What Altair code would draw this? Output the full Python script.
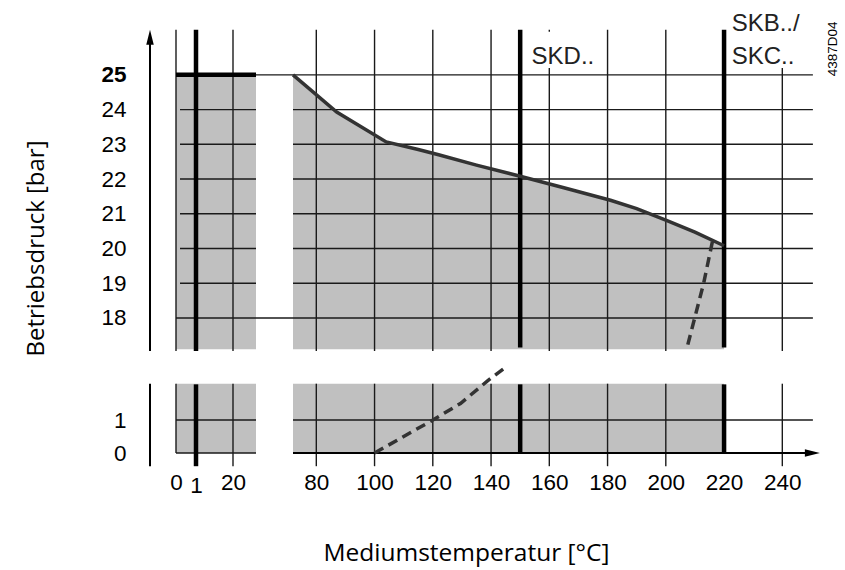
import altair as alt
import pandas as pd

# ---- scale structure (broken axes) ----
X_DOMAIN = [-9, 0, 1, 20, 28, 72, 255]
X_RANGE = [10, 36, 56, 93, 116, 153, 686]
Y_DOMAIN = [-0.5, 2.7, 17.0, 26.3]
Y_RANGE = [449.5, 343.9, 332.7, 9.7]

X_TICKS = [0, 1, 20, 80, 100, 120, 140, 160, 180, 200, 220, 240]
Y_TICKS = [0, 1, 18, 19, 20, 21, 22, 23, 24, 25]

# ---- data ----
CURVE_T = [72, 87, 104, 115, 122, 135, 150, 165, 181, 190, 200, 210, 220]
CURVE_P = [25.0, 23.93, 23.07, 22.85, 22.70, 22.40, 22.08, 21.75, 21.39, 21.15, 20.82, 20.47, 20.08]
FLOOR_P = 17.1

DASH_UP_T = [216, 213, 207.3]
DASH_UP_P = [20.2, 19.0, 17.15]
DASH_LO_T = [100, 120, 129.5, 139, 145]
DASH_LO_P = [0.0, 1.0, 1.5, 2.2, 2.6]

GRAY_X1 = [0, 0, 72]
GRAY_X2 = [28, 28, 220]
GRAY_Y1 = [17.1, 0, 0]
GRAY_Y2 = [25, 2.1, 2.1]

THIN_VX = [0, 20, 80, 100, 120, 140, 160, 180, 200, 240]
THICK_VX = [1, 150, 220]
HGRID_UPPER = [19, 20, 21, 22, 23, 24]

LABELS = ["SKD..", "SKB../", "SKC.."]
LABEL_T = [153.9, 222.6, 222.6]
LABEL_P = [25.3, 26.25, 25.3]
BOX_X1 = [151.8, 220.6]
BOX_X2 = [178.5, 250.2]
BOX_Y1 = [25.2, 25.2]
BOX_Y2 = [26.24, 26.9]

DOC_ID = "4387D04"

# ---- scales / axes ----
XS = alt.Scale(domain=X_DOMAIN, range=X_RANGE, zero=False, nice=False)
YS = alt.Scale(domain=Y_DOMAIN, range=Y_RANGE, zero=False, nice=False)

XAXIS = alt.Axis(
    values=X_TICKS, title="Mediumstemperatur [°C]", orient="bottom", offset=-104,
    domain=False, ticks=False, grid=False,
    labelFont="Liberation Sans", labelFontSize=22.5, labelColor="#000",
    labelPadding={"condition": {"test": "datum.value == 1", "value": 8}, "value": 5},
    labelOverlap=False, labelFlush=False, labelBound=False,
    titleFont="Open Sans", titleFontSize=24.5, titleFontWeight="normal", titleColor="#000",
    titleX=326, titleY=94, titleAlign="center", titleBaseline="alphabetic",
)
YAXIS = alt.Axis(
    values=Y_TICKS, title="Betriebsdruck [bar]", orient="left",
    domain=False, ticks=False, grid=False,
    labelFont="Liberation Sans", labelFontSize=22.5, labelColor="#000",
    labelFontWeight={"condition": {"test": "datum.value == 25", "value": "bold"}, "value": "normal"},
    labelPadding=14, labelOverlap=False, labelBound=False,
    titleFont="Open Sans", titleFontSize=24, titleFontWeight="normal", titleColor="#000",
    titleAngle=270, titleX=-97, titleY=228, titleAlign="center", titleBaseline="alphabetic",
)


def X(f):
    return alt.X(f, type="quantitative", scale=XS, axis=XAXIS)


def Y(f):
    return alt.Y(f, type="quantitative", scale=YS, axis=YAXIS)


# ---- build tables ----
gray = pd.DataFrame({"x": GRAY_X1, "x2": GRAY_X2, "y": GRAY_Y1, "y2": GRAY_Y2})
curve = pd.DataFrame({"t": CURVE_T, "p": CURVE_P, "f": [FLOOR_P] * len(CURVE_T)})
dash = pd.DataFrame({
    "t": DASH_UP_T + DASH_LO_T,
    "p": DASH_UP_P + DASH_LO_P,
    "g": ["u"] * len(DASH_UP_T) + ["l"] * len(DASH_LO_T),
    "o": list(range(len(DASH_UP_T))) + list(range(len(DASH_LO_T))),
})

thin = []
for v in THIN_VX:
    thin.append((v, v, 17.05, 26.3))
    thin.append((v, v, 0 if v == 0 else -0.4, 2.1))
thin.append((0, 250.5, 25, 25))
thin.append((0, 250.5, 18, 18))
for h in HGRID_UPPER:
    thin.append((0.2, 28, h, h))
    thin.append((72, 250.5, h, h))
thin.append((0, 28, 1, 1))
thin.append((72, 250.5, 1, 1))
thin.append((0, 28, 0, 0))
thin_df = pd.DataFrame(thin, columns=["x", "x2", "y", "y2"])

thick = []
for v in THICK_VX:
    thick.append((v, v, 17.05 if v == 1 else 17.15, 26.3))
    thick.append((v, v, -0.4 if v == 1 else 0, 2.08))
thick.append((0, 28, 25, 25))
thick_df = pd.DataFrame(thick, columns=["x", "x2", "y", "y2"])

axes_df = pd.DataFrame([
    (-9, -9, 17.05, 26.0),
    (-9, -9, -0.4, 2.1),
    (72, 251, 0, 0),
], columns=["x", "x2", "y", "y2"])

arrows = pd.DataFrame({"x": [-9, 252.9], "y": [26.3, 0], "k": ["up", "right"]})

boxes = pd.DataFrame({"x": BOX_X1, "x2": BOX_X2, "y": BOX_Y1, "y2": BOX_Y2})
labels = pd.DataFrame({"t": LABEL_T, "p": LABEL_P, "s": LABELS})
docid = pd.DataFrame({"t": [257.5], "p": [25.75], "s": [DOC_ID]})

# ---- layers ----
l_gray = alt.Chart(gray).mark_rect(color="#c0c0c0").encode(
    x=X("x"), x2="x2", y=Y("y"), y2="y2")
l_area = alt.Chart(curve).mark_area(color="#c0c0c0", opacity=1).encode(
    x=X("t"), y=Y("p"), y2="f")
l_thin = alt.Chart(thin_df).mark_rule(color="#1a1a1a", strokeWidth=1.4).encode(
    x=X("x"), x2="x2", y=Y("y"), y2="y2")
l_boxes = alt.Chart(boxes).mark_rect(color="#ffffff").encode(
    x=X("x"), x2="x2", y=Y("y"), y2="y2")
l_thick = alt.Chart(thick_df).mark_rule(color="#000000", strokeWidth=4.5).encode(
    x=X("x"), x2="x2", y=Y("y"), y2="y2")
l_axes = alt.Chart(axes_df).mark_rule(color="#000000", strokeWidth=2).encode(
    x=X("x"), x2="x2", y=Y("y"), y2="y2")
l_curve = alt.Chart(curve).mark_line(color="#333333", strokeWidth=3.5).encode(
    x=X("t"), y=Y("p"))
l_dash = alt.Chart(dash).mark_line(color="#333333", strokeWidth=3.5, strokeDash=[10, 6]).encode(
    x=X("t"), y=Y("p"), detail="g:N", order="o:Q")
l_arrow_up = alt.Chart(arrows[arrows.k == "up"]).mark_point(
    shape="M0,0L-0.25,1L0.25,1Z", size=900, filled=True, color="#000", opacity=1
).encode(x=X("x"), y=Y("y"))
l_arrow_rt = alt.Chart(arrows[arrows.k == "right"]).mark_point(
    shape="M0,0L-1,-0.25L-1,0.25Z", size=900, filled=True, color="#000", opacity=1
).encode(x=X("x"), y=Y("y"))
l_text = alt.Chart(labels).mark_text(
    align="left", baseline="alphabetic", font="Liberation Sans", fontSize=24, color="#222"
).encode(x=X("t"), y=Y("p"), text="s:N")
l_id = alt.Chart(docid).mark_text(
    align="center", baseline="middle", angle=270, font="Liberation Sans", fontSize=13.5, color="#000"
).encode(x=X("t"), y=Y("p"), text="s:N")

chart = alt.layer(
    l_gray, l_area, l_thin, l_boxes, l_thick, l_axes, l_curve, l_dash,
    l_arrow_up, l_arrow_rt, l_text, l_id
).properties(
    width=705, height=550,
    autosize=alt.AutoSizeParams(type="none"),
    padding={"left": 140, "top": 20, "right": 0, "bottom": 0},
    background="#ffffff",
).configure_view(stroke=None)

chart.save("out.html", embed_options={"renderer": "svg", "actions": False})
